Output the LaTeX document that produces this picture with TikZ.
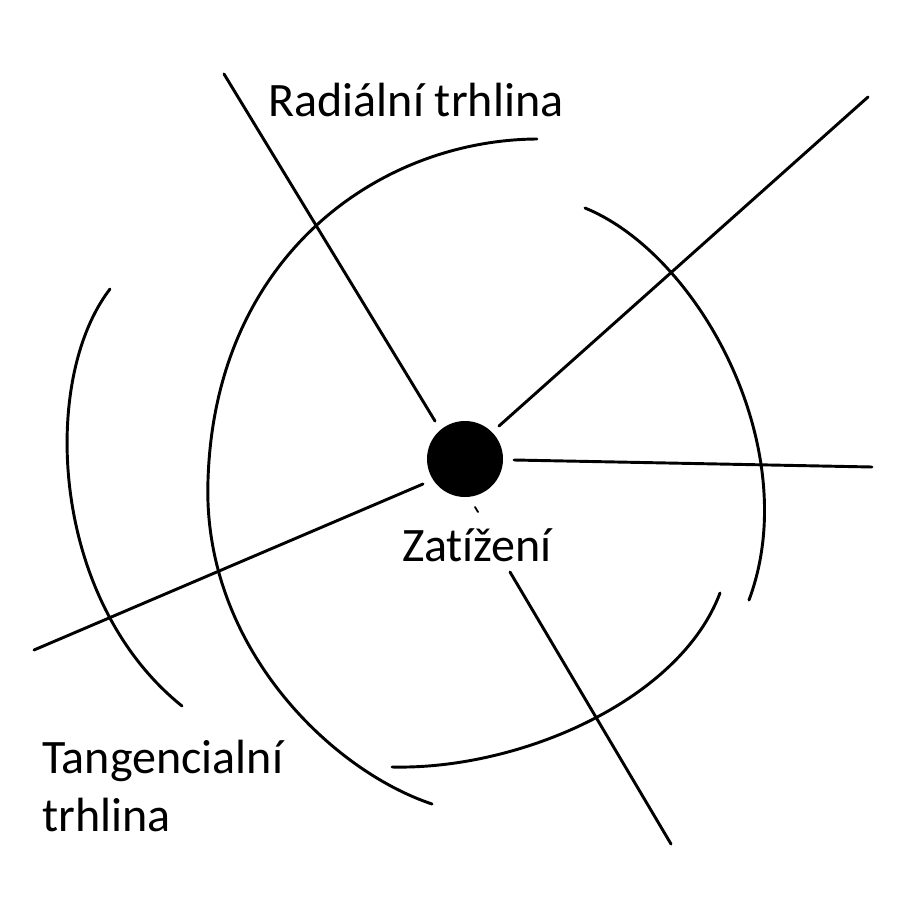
\documentclass[tikz,border=0pt]{standalone}
\usepackage{fontspec}
\setmainfont{Carlito}[Ligatures=NoCommon]
\begin{document}
\begin{tikzpicture}[x=0.03cm,y=-0.03cm,
  crack/.style={line width=2.5pt,line cap=round,line join=round},
  lbl/.style={font=\fontsize{41}{49}\selectfont,inner sep=0pt}]
\useasboundingbox (0,0) rectangle (900,900);
\node[circle,fill=black,minimum size=2.28cm,inner sep=0pt] (load) at (465,459) {};
% radial crack ends
\coordinate (r1a) at (435,421); \coordinate (r1b) at (224,74);
\coordinate (r2a) at (499,426); \coordinate (r2b) at (868,97);
\coordinate (r3a) at (514,460); \coordinate (r3b) at (872,467);
\coordinate (r4a) at (423,484); \coordinate (r4b) at (34,650);
\coordinate (r5a) at (475,507); \coordinate (r5b) at (478,512);
\coordinate (r6a) at (510,572); \coordinate (r6b) at (671,844);
\draw[crack] (r1a) -- (r1b);
\draw[crack] (r2a) -- (r2b);
\draw[crack] (r3a) -- (r3b);
\draw[crack] (r4a) -- (r4b);
\draw[crack,line width=1.6pt] (r5a) -- (r5b);
\draw[crack] (r6a) -- (r6b);
% tangential cracks
\coordinate (t1a) at (537,139); \coordinate (t1m) at (208,480); \coordinate (t1b) at (432,804);
\coordinate (t2a) at (585,208); \coordinate (t2b) at (749,600);
\coordinate (t3a) at (720,593); \coordinate (t3b) at (392,767);
\coordinate (t4a) at (110,289); \coordinate (t4b) at (182,706);
\draw[crack] (t1a) .. controls (380,140) and (215,255) .. (t1m)
                   .. controls (202,645) and (330,770) .. (t1b);
\draw[crack] (t2a) .. controls (700,255) and (805,450) .. (t2b);
\draw[crack] (t3a) .. controls (680,700) and (520,770) .. (t3b);
\draw[crack] (t4a) .. controls (40,380) and (50,600) .. (t4b);
% labels
\node[lbl] (radial) at (416,100) {Radiální trhlina};
\node[lbl] (zat) at (477,545) {Zatížení};
\node[lbl,align=left,anchor=north west] (tang) at (42,740) {Tangencialní\\trhlina};
\end{tikzpicture}
\end{document}
